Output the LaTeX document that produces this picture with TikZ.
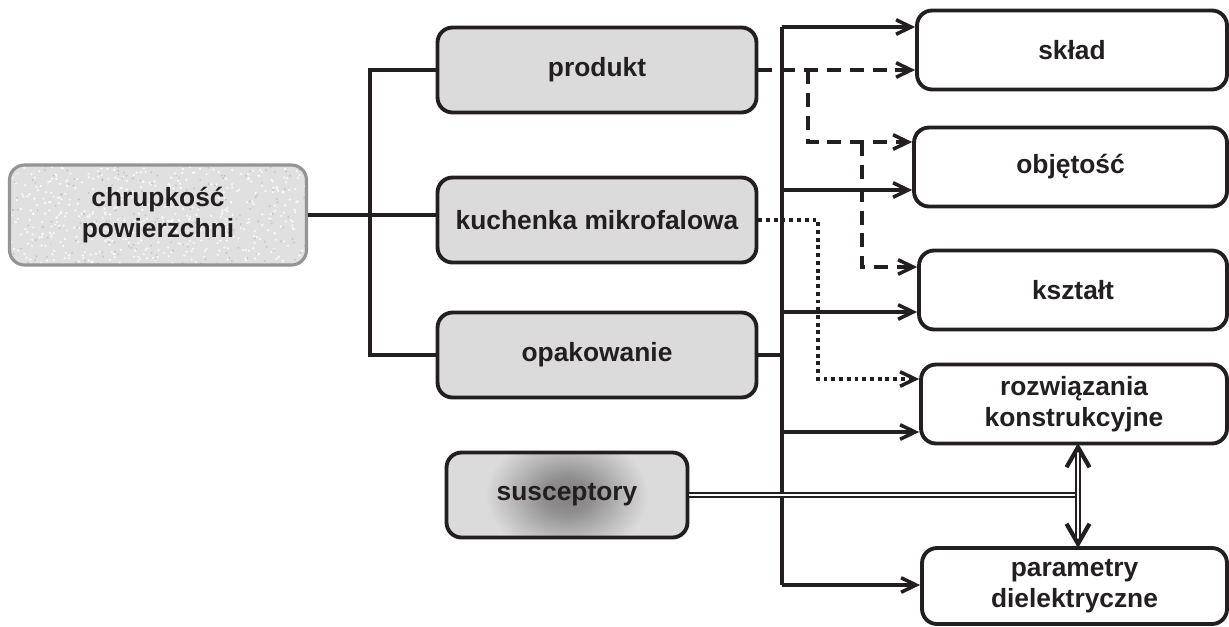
\documentclass[tikz,border=0pt]{standalone}
\usepackage{fontspec}
\setmainfont{Liberation Sans}
\usetikzlibrary{positioning, arrows.meta, calc}
\definecolor{ink}{HTML}{231F20}
\pgfdeclareradialshading{suscglow}{\pgfpoint{0bp}{0bp}}{color(0bp)=(black!50); color(5bp)=(black!44); color(12bp)=(black!26); color(17bp)=(black!14); color(50bp)=(black!14)}

\begin{document}
\begin{tikzpicture}[x=0.02cm, y=-0.02cm,
          font=\fontsize{15}{17.5}\selectfont\bfseries, text=ink,
          box/.style={draw=ink, line width=2.2pt, rounded corners=0.3cm, align=center, inner sep=2pt},
          mid/.style={box, fill=black!14, minimum width=6.38cm, minimum height=1.7cm},
          res/.style={box, fill=white, minimum height=1.58cm},
          ar/.style={-{Straight Barb[length=3mm, width=2.9mm, line width=2pt]}},
          ln/.style={draw=ink, line width=2.2pt},
          dsh/.style={ln, dash pattern=on 8pt off 5pt},
          dts/.style={ln, dash pattern=on 2.2pt off 2.2pt},
          dbl/.style={draw=ink, double=white, double distance=1.6pt, line width=0.8pt}]
        \useasboundingbox (0,0) rectangle (1229,626);
        % cel
        \node[box, draw=black!42, line width=1.8pt, fill=black!12, minimum width=5.94cm, minimum height=2cm,
              path picture={\pgfmathsetseed{7}
                \foreach \i in {1,...,500}
                  \fill[white, opacity=0.8] ($(path picture bounding box.south west)+({300*rnd},{-100*rnd})$) circle (0.7pt);
                \foreach \i in {1,...,180}
                  \fill[black!30, opacity=0.6] ($(path picture bounding box.south west)+({300*rnd},{-100*rnd})$) circle (0.6pt);
                \node[align=center] at (path picture bounding box.center) {chrupkość\\powierzchni};}] (chr) at (158,215) {\phantom{chrupkość}\\\phantom{powierzchni}};
        % czynniki
        \node[mid] (prod) at (597,70) {produkt};
        \node[mid] (kuch) at (597,220) {kuchenka mikrofalowa};
        \node[mid] (opak) at (597,355) {opakowanie};
        \node[mid, minimum width=4.82cm,
              path picture={\shade[shading=suscglow] (path picture bounding box.center) ellipse (2.4cm and 1.8cm);
                \node at (path picture bounding box.center) {susceptory};}] (susc) at (567,495) {\phantom{susceptory}};
        % cechy
        \node[res, minimum width=6.2cm] (sklad) at (1072,50) {skład};
        \node[res, minimum width=6.26cm] (obj) at (1070.5,167) {objętość};
        \node[res, minimum width=6.16cm] (ksz) at (1073,290) {kształt};
        \node[res, minimum width=6.12cm] (roz) at (1074,404) {rozwiązania\\konstrukcyjne};
        \node[res, minimum width=6.1cm, minimum height=1.52cm] (par) at (1074.5,586) {parametry\\dielektryczne};
        % polaczenia
        \draw[ln] (chr.east) -- (chr.east -| kuch.west);
        \draw[ln] (prod.west) -- ++(-66,0) |- (opak.west);
        \coordinate (b1) at (782,27);
        \coordinate (b2) at (782,190);
        \coordinate (b3) at (782,312);
        \coordinate (b4) at (782,432);
        \coordinate (b5) at (782,585);
        \draw[ln] (b1) -- (b5);
        \draw[ln] (opak.east) -- (opak.east -| b3);
        \draw[ln, ar] (b1) -- (b1 -| sklad.west);
        \draw[ln, ar] (b2) -- (b2 -| obj.west);
        \draw[ln, ar] (b3) -- (b3 -| ksz.west);
        \draw[ln, ar] (b4) -- (b4 -| roz.west);
        \draw[ln, ar] (b5) -- (b5 -| par.west);
        % zaleznosci
        \coordinate (d1) at (808,70);
        \coordinate (d2) at (862,142);
        \coordinate (k1) at (818,379);
        \draw[dsh, ar] (prod.east) -- (prod.east -| sklad.west);
        \draw[dsh, ar] (d1) |- (d2 -| obj.west);
        \draw[dsh, ar] (d2) |- (ksz.west |- 0,267);
        \draw[dts, ar] (kuch.east) -| (k1) -- (k1 -| roz.west);
        \coordinate (v1) at (1078,443);
        \coordinate (v2) at (1078,548);
        \draw[dbl] (susc.east) -- (susc.east -| v1);
        \draw[dbl, {Straight Barb[length=4mm, width=4.6mm, line width=2.4pt]}-{Straight Barb[length=4mm, width=4.6mm, line width=2.4pt]}] (v1) -- (v2);
      \end{tikzpicture}
\end{document}
